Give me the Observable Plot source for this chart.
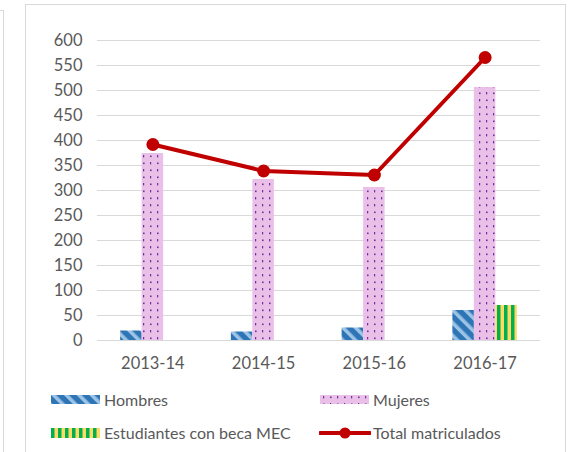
<!DOCTYPE html>
<html><head><meta charset="utf-8">
<script src="https://cdn.jsdelivr.net/npm/d3@7"></script>
<script src="https://cdn.jsdelivr.net/npm/@observablehq/plot@0.6"></script>
<style>
body{margin:0;background:#fff;font-family:Lato,sans-serif;}
#wrap{position:relative;width:571px;height:452px;overflow:hidden;}
.frame{position:absolute;border:1px solid #D9D9D9;}
#chart{position:absolute;left:0;top:0;}
.leg{position:absolute;font-size:16px;color:#595959;line-height:20px;white-space:nowrap;}
.sw{position:absolute;}
</style></head><body>
<div id="wrap">
<svg width="0" height="0" style="position:absolute"><defs>
<pattern id="pHombres" patternUnits="userSpaceOnUse" width="9" height="9" patternTransform="rotate(-45)">
<rect width="9" height="9" fill="#2E75B6"/><rect width="3.6" height="9" fill="#9DC3E6"/></pattern>
<pattern id="pMujeres" patternUnits="userSpaceOnUse" width="14" height="14">
<rect width="14" height="14" fill="#EBC0E8"/>
<rect x="3" y="1" width="1.2" height="2.4" fill="#7030A0"/>
<rect x="10" y="1.5" width="1.6" height="1.6" fill="#7030A0"/>
<rect x="3" y="8.5" width="1.6" height="1.6" fill="#7030A0"/>
<rect x="10" y="8" width="1.2" height="2.4" fill="#7030A0"/>
</pattern>
<pattern id="pBeca" patternUnits="userSpaceOnUse" width="7" height="7">
<rect width="7" height="7" fill="#FFD966"/><rect width="3.5" height="7" fill="#00B050"/></pattern>
</defs></svg>
<div class="frame" style="left:-300px;top:10px;width:302px;height:500px"></div>
<div class="frame" style="left:25px;top:4px;width:539px;height:500px"></div>
<div id="chart"></div>
<div id="legend"></div>
</div>
<script>
const years = ["2013-14", "2014-15", "2015-16", "2016-17"];
const hombres = [19, 17, 25, 60];
const mujeres = [374, 322, 306, 506];
const beca = [0, 0, 0, 70];
const total = [392, 339, 331, 566];
const yTicks = [0, 50, 100, 150, 200, 250, 300, 350, 400, 450, 500, 550, 600];
const seriesNames = ["Hombres", "Mujeres", "Estudiantes con beca MEC", "Total matriculados"];
const fills = ["url(#pHombres)", "url(#pMujeres)", "url(#pBeca)"];
const lineColor = "#C00000";

const data = years.map((y, i) => ({year: y, hombres: hombres[i], mujeres: mujeres[i], beca: beca[i], total: total[i]}));

const W = 571, ML = 97, MR = 31;
const band = (W - ML - MR) / years.length;
const bw = 21.5;
const c = band / 2;

const chart = Plot.plot({
  width: W, height: 380,
  marginLeft: ML, marginRight: MR, marginTop: 40, marginBottom: 40,
  style: {fontFamily: "Lato, sans-serif", fontSize: "16.5px", color: "#595959", background: "transparent"},
  x: {domain: years, padding: 0, round: false},
  y: {domain: [0, 600]},
  marks: [
    Plot.gridY(yTicks, {stroke: "#D9D9D9", strokeOpacity: 1, strokeWidth: 1}),
    Plot.barY(data, {x: "year", y: "hombres", fill: fills[0], insetLeft: c - 1.5 * bw, insetRight: c + 0.5 * bw}),
    Plot.barY(data, {x: "year", y: "mujeres", fill: fills[1], insetLeft: c - 0.5 * bw, insetRight: c - 0.5 * bw}),
    Plot.barY(data.filter(d => d.beca > 0), {x: "year", y: "beca", fill: fills[2], insetLeft: c + 0.5 * bw, insetRight: c - 1.5 * bw}),
    Plot.lineY(data, {x: "year", y: "total", stroke: lineColor, strokeWidth: 4}),
    Plot.dot(data, {x: "year", y: "total", r: 6.5, fill: lineColor}),
    Plot.axisY(yTicks, {tickSize: 0, tickPadding: 15, label: null}),
    Plot.axisX({tickSize: 0, tickPadding: 17, label: null})
  ]
});
document.getElementById("chart").appendChild(chart);

// legend
const leg = document.getElementById("legend");
const items = [
  {name: seriesNames[0], fill: fills[0], sx: 51, sy: 395, sh: 9, tx: 104, ty: 390},
  {name: seriesNames[1], fill: fills[1], sx: 320, sy: 395, sh: 9, tx: 373, ty: 390},
  {name: seriesNames[2], fill: fills[2], sx: 51, sy: 428, sh: 10, tx: 104, ty: 423},
  {name: seriesNames[3], line: true, sx: 319, sy: 426, sh: 14, tx: 373, ty: 423}
];
for (const it of items) {
  const ns = "http://www.w3.org/2000/svg";
  const s = document.createElementNS(ns, "svg");
  s.setAttribute("class", "sw");
  s.setAttribute("width", it.line ? 52 : 49);
  s.setAttribute("height", it.sh);
  s.style.left = it.sx + "px"; s.style.top = it.sy + "px";
  if (it.line) {
    const l = document.createElementNS(ns, "line");
    l.setAttribute("x1", 1); l.setAttribute("x2", 51); l.setAttribute("y1", 7); l.setAttribute("y2", 7);
    l.setAttribute("stroke", lineColor); l.setAttribute("stroke-width", 4); l.setAttribute("stroke-linecap", "round");
    s.appendChild(l);
    const ci = document.createElementNS(ns, "circle");
    ci.setAttribute("cx", 26); ci.setAttribute("cy", 7); ci.setAttribute("r", 5.5); ci.setAttribute("fill", lineColor);
    s.appendChild(ci);
  } else {
    const r = document.createElementNS(ns, "rect");
    r.setAttribute("width", 49); r.setAttribute("height", it.sh); r.setAttribute("fill", it.fill);
    s.appendChild(r);
  }
  leg.appendChild(s);
  const t = document.createElement("div");
  t.className = "leg"; t.textContent = it.name;
  t.style.left = it.tx + "px"; t.style.top = it.ty + "px";
  leg.appendChild(t);
}
</script>
</body></html>
